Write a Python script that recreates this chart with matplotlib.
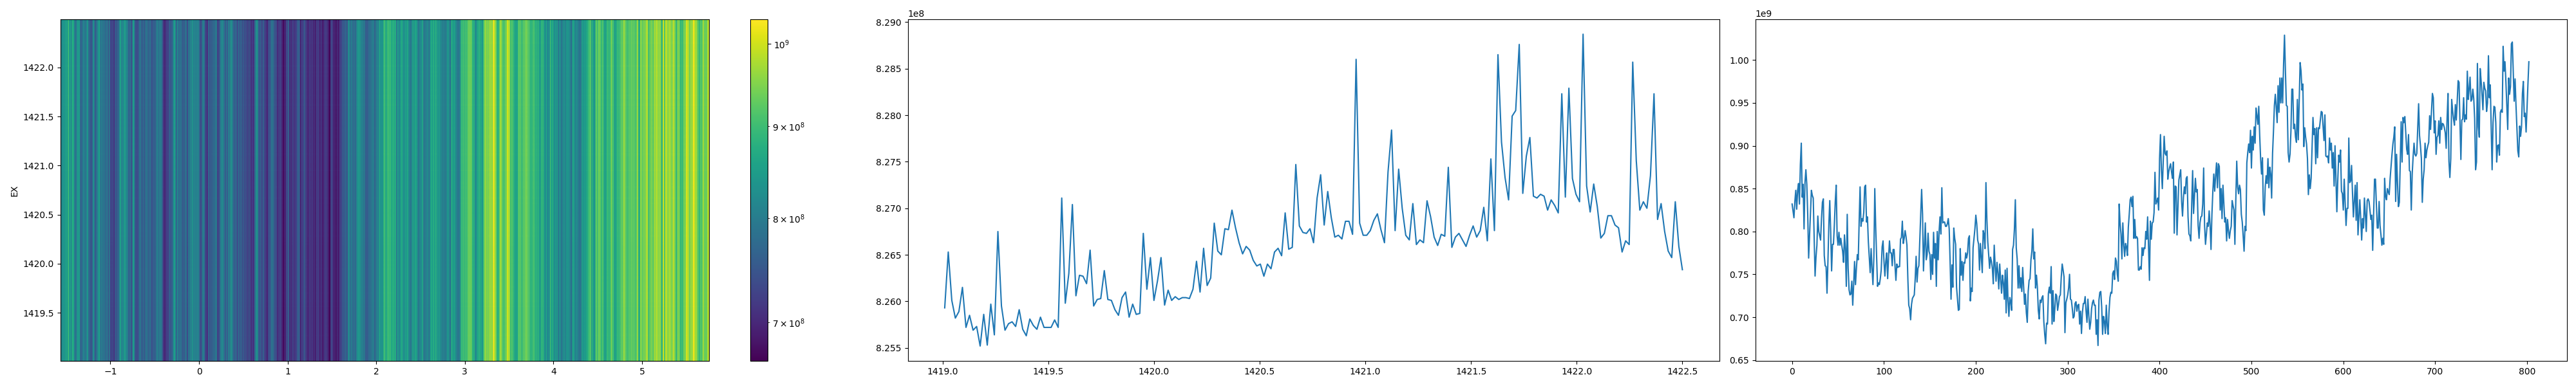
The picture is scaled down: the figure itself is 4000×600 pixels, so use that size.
import numpy as np
import matplotlib
matplotlib.use("Agg")
import matplotlib.pyplot as plt
from matplotlib.colors import LogNorm

# EX profile (summed over EM), in units of 1e8
ex_profile = [
    8.2593, 8.2653, 8.2601, 8.2582, 8.2589, 8.2615, 8.2572, 8.2585, 8.2569, 8.2573,
    8.2552, 8.2586, 8.2553, 8.2597, 8.2564, 8.2675, 8.2595, 8.2569, 8.2576, 8.2578,
    8.2573, 8.2591, 8.2570, 8.2563, 8.2581, 8.2574, 8.2570, 8.2583, 8.2572, 8.2572,
    8.2572, 8.2580, 8.2572, 8.2711, 8.2598, 8.2630, 8.2704, 8.2606, 8.2628, 8.2627,
    8.2619, 8.2655, 8.2595, 8.2602, 8.2603, 8.2633, 8.2602, 8.2601, 8.2591, 8.2585,
    8.2604, 8.2610, 8.2583, 8.2597, 8.2586, 8.2587, 8.2673, 8.2613, 8.2647, 8.2601,
    8.2622, 8.2647, 8.2596, 8.2612, 8.2601, 8.2605, 8.2602, 8.2604, 8.2604, 8.2603,
    8.2613, 8.2643, 8.2610, 8.2657, 8.2617, 8.2625, 8.2684, 8.2654, 8.2650, 8.2678,
    8.2677, 8.2698, 8.2679, 8.2663, 8.2651, 8.2659, 8.2655, 8.2644, 8.2638, 8.2640,
    8.2627, 8.2640, 8.2635, 8.2653, 8.2657, 8.2649, 8.2695, 8.2656, 8.2658, 8.2747,
    8.2681, 8.2674, 8.2673, 8.2678, 8.2663, 8.2711, 8.2736, 8.2682, 8.2718, 8.2690,
    8.2669, 8.2671, 8.2667, 8.2686, 8.2686, 8.2672, 8.2860, 8.2684, 8.2671, 8.2671,
    8.2676, 8.2687, 8.2694, 8.2677, 8.2663, 8.2739, 8.2784, 8.2676, 8.2742, 8.2700,
    8.2671, 8.2666, 8.2705, 8.2661, 8.2666, 8.2663, 8.2708, 8.2691, 8.2669, 8.2660,
    8.2672, 8.2670, 8.2744, 8.2658, 8.2669, 8.2673, 8.2666, 8.2659, 8.2671, 8.2681,
    8.2669, 8.2676, 8.2701, 8.2665, 8.2753, 8.2676, 8.2865, 8.2771, 8.2733, 8.2709,
    8.2799, 8.2805, 8.2876, 8.2716, 8.2756, 8.2776, 8.2713, 8.2711, 8.2715, 8.2713,
    8.2698, 8.2709, 8.2703, 8.2695, 8.2823, 8.2712, 8.2829, 8.2732, 8.2715, 8.2707,
    8.2887, 8.2724, 8.2696, 8.2726, 8.2702, 8.2668, 8.2673, 8.2692, 8.2692, 8.2682,
    8.2679, 8.2653, 8.2665, 8.2661, 8.2857, 8.2751, 8.2698, 8.2707, 8.2700, 8.2735,
    8.2823, 8.2688, 8.2705, 8.2675, 8.2654, 8.2647, 8.2707, 8.2659, 8.2634,
]

# EM profile (summed over EX), in units of 1e9
em_profile = [
    .832, .824, .816, .835, .848, .826, .848, .856, .832, .878,
    .903, .840, .855, .803, .857, .872, .855, .820, .769, .795,
    .820, .848, .842, .839, .795, .748, .770, .784, .818, .800,
    .795, .790, .815, .834, .838, .772, .760, .759, .728, .765,
    .808, .836, .800, .754, .785, .785, .808, .835, .854, .795,
    .784, .799, .784, .792, .784, .777, .764, .796, .780, .736,
    .820, .757, .732, .726, .727, .742, .714, .738, .765, .738,
    .757, .773, .767, .812, .852, .806, .815, .812, .822, .852,
    .854, .811, .817, .788, .770, .752, .780, .757, .738, .770,
    .850, .805, .770, .736, .740, .738, .745, .755, .782, .789,
    .765, .748, .765, .775, .745, .770, .789, .775, .775, .760,
    .779, .779, .760, .743, .762, .758, .759, .759, .791, .793,
    .812, .786, .792, .801, .794, .784, .745, .714, .710, .697,
    .715, .722, .724, .726, .745, .771, .741, .757, .760, .791,
    .820, .849, .820, .754, .782, .810, .767, .773, .798, .777,
    .773, .744, .773, .750, .799, .769, .786, .736, .800, .767,
    .800, .817, .797, .851, .810, .811, .811, .806, .806, .809,
    .815, .803, .765, .721, .761, .735, .804, .792, .785, .735,
    .722, .708, .709, .780, .749, .765, .743, .764, .763, .775,
    .769, .775, .792, .795, .719, .734, .730, .781, .792, .803,
    .819, .809, .790, .785, .755, .786, .770, .752, .801, .797,
    .780, .857, .815, .788, .773, .757, .770, .765, .757, .739,
    .784, .760, .742, .764, .752, .733, .762, .744, .728, .749,
    .740, .721, .755, .705, .757, .720, .701, .723, .718, .708,
    .779, .784, .803, .837, .781, .768, .734, .760, .734, .746,
    .730, .758, .737, .715, .727, .705, .694, .730, .743, .745,
    .767, .777, .803, .768, .776, .734, .749, .735, .708, .698,
    .720, .717, .723, .725, .695, .680, .669, .693, .692, .728,
    .735, .728, .759, .692, .731, .695, .710, .727, .725, .708,
    .715, .724, .726, .747, .762, .755, .747, .682, .717, .721,
    .726, .734, .750, .721, .720, .710, .699, .701, .716, .718,
    .707, .714, .715, .692, .707, .681, .705, .716, .716, .724,
    .707, .694, .721, .702, .686, .694, .710, .717, .720, .714,
    .714, .680, .697, .667, .720, .729, .730, .712, .680, .701,
    .695, .681, .714, .690, .680, .707, .723, .729, .728, .751,
    .754, .744, .769, .765, .750, .742, .832, .810, .797, .768,
    .810, .785, .771, .786, .782, .772, .805, .820, .837, .840,
    .829, .841, .792, .814, .792, .794, .792, .755, .755, .759,
    .756, .781, .772, .781, .780, .800, .791, .817, .782, .743,
    .812, .791, .810, .811, .822, .869, .832, .835, .839, .825,
    .885, .913, .872, .850, .882, .911, .891, .889, .894, .861,
    .870, .875, .879, .870, .862, .881, .798, .853, .852, .796,
    .827, .860, .866, .872, .835, .818, .840, .852, .844, .862,
    .864, .817, .797, .795, .789, .832, .871, .821, .842, .862,
    .846, .849, .807, .792, .810, .817, .818, .832, .874, .807,
    .785, .797, .810, .806, .824, .807, .779, .820, .847, .867,
    .847, .865, .880, .851, .879, .876, .825, .850, .815, .854,
    .832, .811, .816, .789, .814, .801, .792, .801, .806, .836,
    .830, .825, .785, .837, .882, .852, .844, .854, .849, .820,
    .811, .795, .777, .806, .801, .880, .892, .902, .892, .918,
    .874, .911, .895, .922, .903, .944, .935, .925, .946, .912,
    .885, .867, .886, .825, .819, .852, .865, .856, .885, .851,
    .875, .867, .839, .891, .917, .947, .960, .945, .927, .970,
    .939, .979, .950, .979, .950, .995, 1.029, .987, .947, .946,
    .892, .881, .890, .917, .966, .966, .920, .925, .910, .904,
    .954, .907, .952, .997, .987, .965, .972, .899, .921, .910,
    .902, .885, .843, .866, .850, .862, .897, .933, .913, .920,
    .879, .921, .886, .921, .920, .930, .940, .939, .922, .906,
    .936, .888, .887, .888, .880, .909, .895, .903, .874, .892,
    .853, .900, .862, .823, .860, .889, .881, .895, .847, .844,
    .825, .861, .835, .807, .827, .827, .909, .857, .859, .877,
    .845, .817, .835, .854, .813, .857, .796, .817, .837, .815,
    .790, .815, .804, .839, .820, .800, .836, .838, .835, .825,
    .814, .819, .778, .820, .861, .861, .832, .804, .804, .835,
    .807, .796, .784, .792, .785, .862, .841, .837, .850, .846,
    .843, .862, .876, .890, .902, .910, .922, .835, .890, .857,
    .829, .834, .882, .928, .881, .933, .927, .934, .915, .896,
    .890, .913, .871, .870, .825, .867, .887, .903, .890, .888,
    .891, .920, .949, .912, .900, .885, .834, .861, .872, .903,
    .886, .895, .900, .904, .935, .919, .940, .961, .956, .915,
    .929, .890, .910, .912, .929, .903, .933, .919, .926, .925,
    .921, .915, .897, .932, .961, .882, .863, .885, .954, .941,
    .931, .924, .948, .930, .952, .976, .974, .927, .884, .930,
    .931, .956, .928, .936, .931, .987, .954, .966, .980, .952,
    .954, .966, .955, .932, .872, .881, .996, .922, .910, .990,
    .976, .960, .942, .974, .967, .964, .940, .950, 1.005, .956,
    .971, .922, .872, .927, .946, .945, .927, .881, .900, .901,
    .889, .939, .942, .939, 1.016, .987, .998, .975, .947, .919,
    .979, .960, .969, 1.019, 1.021, .987, .952, .978, .947, .920,
    .894, .887, .923, .911, .922, .961, .975, .934, .938, .916,
    .945, .972, .998,
]

ex_axis = np.linspace(1419.01, 1422.5, len(ex_profile))
em_index = np.arange(len(em_profile))

ex_vals = np.array(ex_profile) * 1e8
em_vals = np.array(em_profile) * 1e9

# heatmap from the two marginals, rows barely change so the stripes run vertically
z = np.outer(ex_vals / ex_vals.mean(), em_vals)
em_edges = np.linspace(-1.567, 5.757, len(em_profile) + 1)
ex_edges = np.linspace(1419.01, 1422.49, len(ex_profile) + 1)

W, H = 4000, 600
def box(left, right, top=30, bottom=561):
    return [left / W, 1 - bottom / H, (right - left) / W, (bottom - top) / H]

fig = plt.figure(figsize=(40, 6), dpi=100)

ax0 = fig.add_axes(box(93.5, 1101))
mesh = ax0.pcolormesh(em_edges, ex_edges, z, norm=LogNorm(), cmap='viridis')
ax0.set_ylabel('EX')
cax = fig.add_axes(box(1164.5, 1191.5))
fig.colorbar(mesh, cax=cax)

ax1 = fig.add_axes(box(1409.5, 2669.5))
ax1.plot(ex_axis, ex_vals)
ax1.set_xlim(1418.835, 1422.674)
ax1.set_ylim(8.2536e8, 8.2903e8)

ax2 = fig.add_axes(box(2725.5, 3985.5))
ax2.plot(em_index, em_vals)
ax2.set_xlim(-40.15, 843.15)
ax2.set_ylim(0.649e9, 1.0475e9)

fig.savefig('out.png', dpi=100)
